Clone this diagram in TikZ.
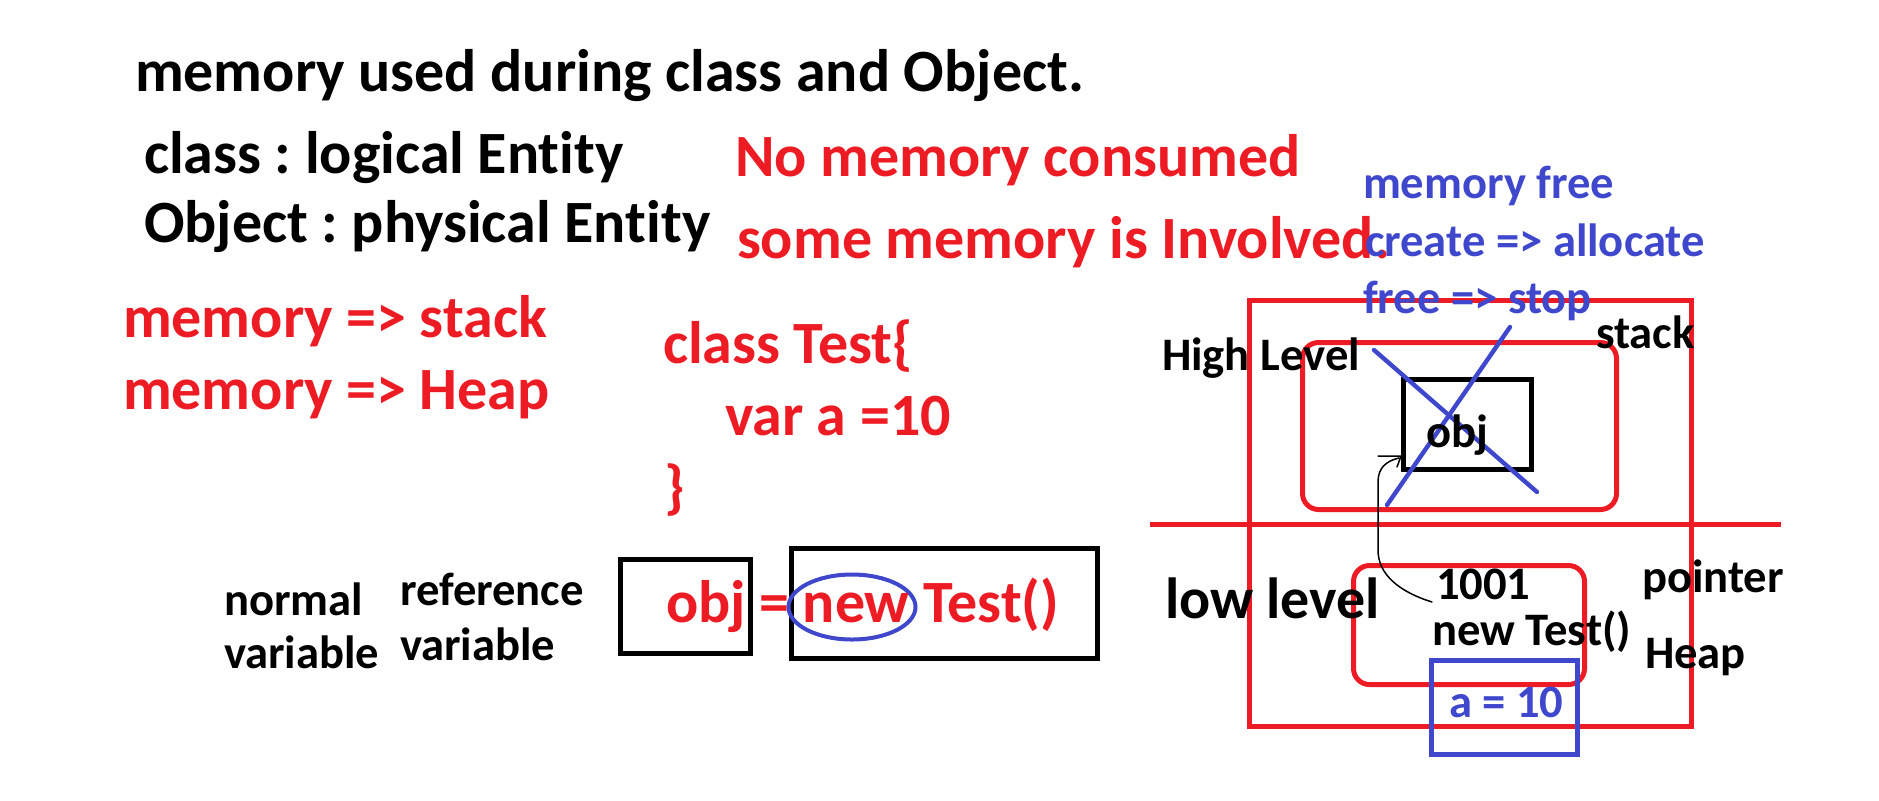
\documentclass[tikz,border=0pt]{standalone}
\usepackage{fontspec}
\setmainfont{Carlito}[Ligatures={NoCommon}]
\frenchspacing
\definecolor{memred}{RGB}{237,28,36}
\definecolor{memblue}{RGB}{63,72,204}
\begin{document}
\begin{tikzpicture}[x=.5pt,y=-.5pt,line width=2.5pt,line join=miter,
  big/.style={anchor=base west,inner sep=0,outer sep=0,
    font=\bfseries\fontsize{30}{36}\selectfont},
  small/.style={anchor=base west,inner sep=0,outer sep=0,
    font=\bfseries\fontsize{23.3}{28}\selectfont},
  redbox/.style={draw=memred,rounded corners=8pt},
  ptr/.style={line width=.75pt,line cap=round,line join=round}]
  \useasboundingbox (0,0) rectangle (1879,800);
  % memory areas
  \draw[memred] (1249.5,300.5) rectangle (1691.5,726.5);
  \draw[memred] (1150,524)--(1781,524);
  \draw[redbox] (1302.5,342.5) rectangle (1616.5,509.5);
  \draw[redbox] (1353.5,565.5) rectangle (1584.5,684.5);
  \node[draw,inner sep=0,minimum width=64pt,minimum height=45pt]
    (objbox) at (1467.5,424.5) {};
  \draw[memblue] (1431.5,660.5) rectangle (1577.5,754.5);
  \draw[memblue,line width=2.2pt,line cap=round] (1374,350)--(1537,492);
  \draw[memblue,line width=2.2pt,line cap=round] (1510,327)--(1387,505);
  % code boxes
  \draw (620.5,559.5) rectangle (750.5,653.5);
  \draw (791.5,548.5) rectangle (1097.5,658.5);
  \draw[memblue,line width=2pt] (852,607) ellipse [x radius=31.75pt,y radius=16.25pt];
  % black text
  \node[big] (title) at (135,91) {memory used during class and Object.};
  \node[big] (classdef) at (144,173) {class : logical Entity};
  \node[big] (objdef) at (144,242) {Object : physical Entity};
  \node[small] (normal) at (224,615) {normal};
  \node[small] (normvar) at (224,668) {variable};
  \node[small] (reference) at (400,605) {reference};
  \node[small] (refvar) at (400,660) {variable};
  \node[small] (highlvl) at (1162,370) {High Level};
  \node[small] (stacklbl) at (1596,348) {stack};
  \node[small] (objtxt) at (1426,447) {obj};
  \node[big,font=\bfseries\fontsize{29}{35}\selectfont] (lowlvl) at (1165,618) {low level};
  \node[small] (addr) at (1436,599) {1001};
  \node[small] (newtest) at (1432,645) {new Test()};
  \node[small] (pointer) at (1642,592) {pointer};
  \node[small] (heaplbl) at (1645,668) {Heap};
  % red text
  \begin{scope}[text=memred]
    \node[big] (nomem) at (735,176) {No memory consumed};
    \node[big] (somemem) at (737,258) {some memory is Involved.};
    \node[big] (memstack) at (123,337) {memory => stack};
    \node[big] (memheap) at (123,409) {memory => Heap};
    \node[big] (classtest) at (663,363) {class Test\{};
    \node[big] (vara) at (725,435) {var a =10};
    \node[big] (closebr) at (664,507) {\}};
    \node[big] (objline) at (666,622) {obj = new Test()};
  \end{scope}
  % blue text
  \begin{scope}[text=memblue]
    \node[small] (memfree) at (1363,198) {memory free};
    \node[small] (createalloc) at (1365,256) {create => allocate};
    \node[small] (freestop) at (1363,313) {free => stop};
    \node[small] (avalue) at (1449,717) {a = 10};
  \end{scope}
  % pointer from heap address to obj
  \draw[ptr] ([xshift=-2pt,yshift=-1.5pt]addr.base west)
    .. controls (1400,592) and (1378,575) .. (1378,550) -- (1378,482)
    .. controls (1378,468) and (1386,461) .. ([xshift=-1pt,yshift=7pt]objbox.south west);
  \draw[ptr] ([xshift=-11.5pt,yshift=8pt]objbox.south west)
    -- ([yshift=8pt]objbox.south west) -- ([xshift=-2pt,yshift=2.5pt]objbox.south west);
\end{tikzpicture}
\end{document}
